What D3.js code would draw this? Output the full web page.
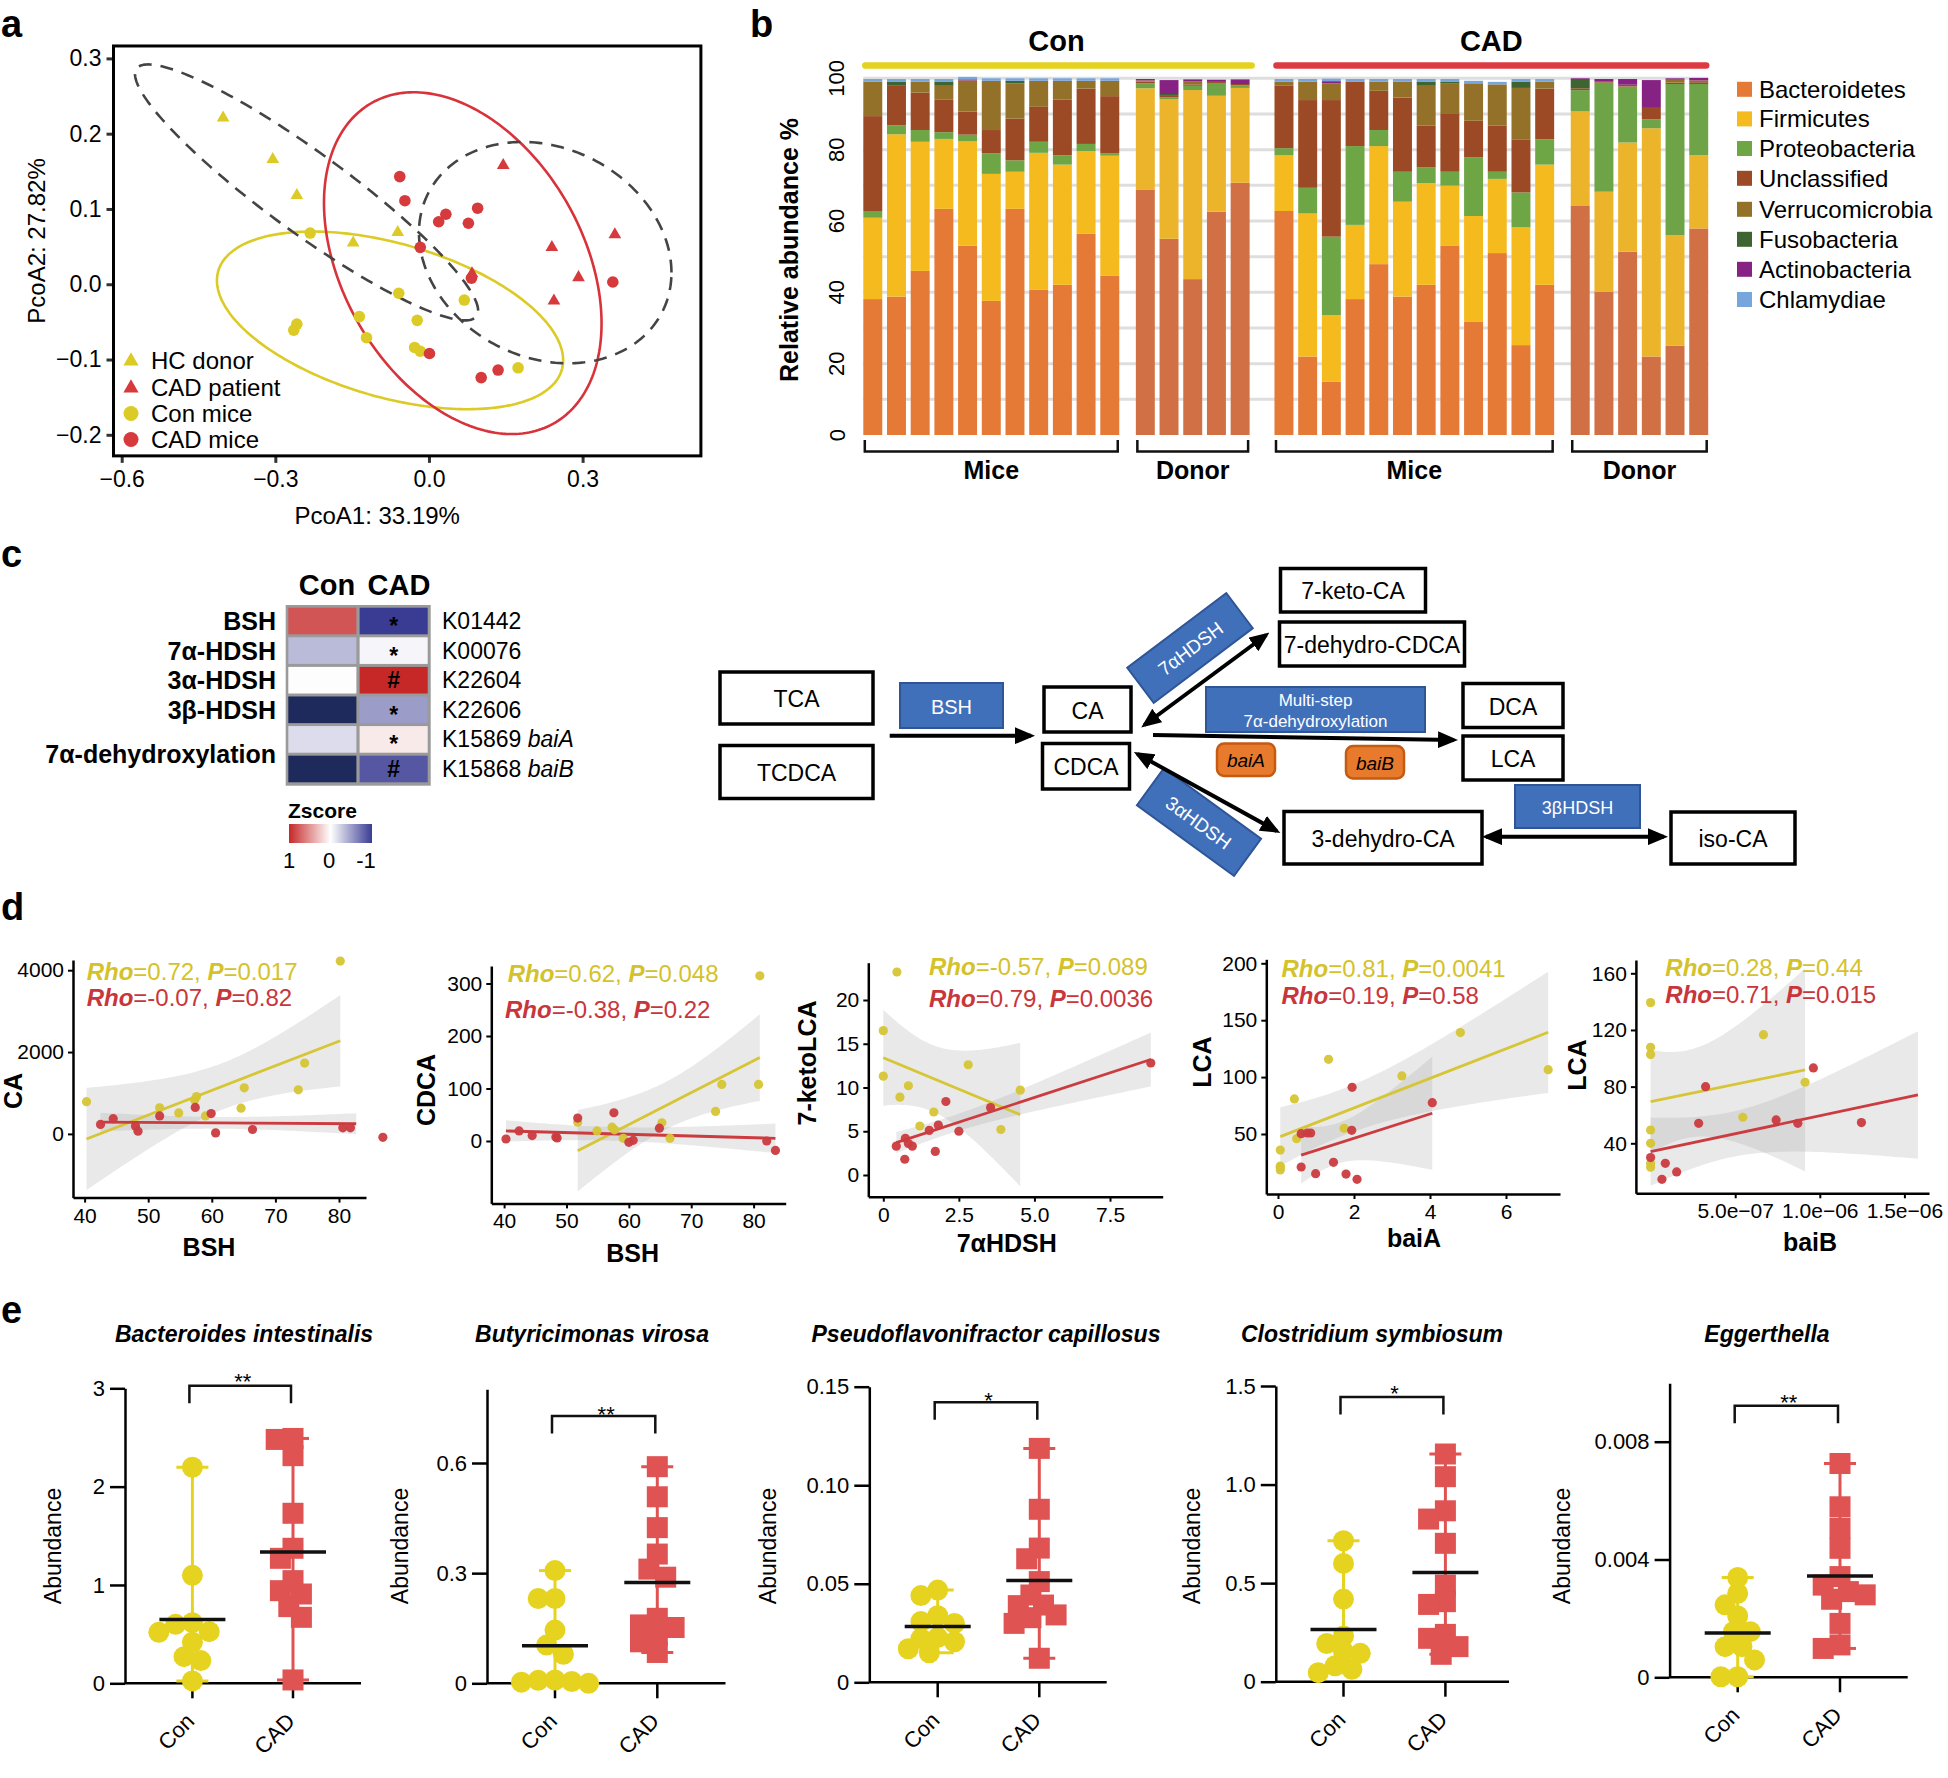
<!DOCTYPE html>
<html>
<head>
<meta charset="utf-8">
<script src="https://cdn.jsdelivr.net/npm/d3@7"></script>
<style>
html,body{margin:0;padding:0;background:#fff;}
svg{display:block;font-family:"Liberation Sans",Arial,Helvetica,sans-serif;}
</style>
</head>
<body>
<svg id="fig" width="1948" height="1778" xmlns="http://www.w3.org/2000/svg"></svg>
<script>
// ================= DATA =================
// ---- panel a : PCoA ----
const pcoaXTicks = [-0.6, -0.3, 0.0, 0.3];
const pcoaYTicks = [-0.2, -0.1, 0.0, 0.1, 0.2, 0.3];
const pcoaHCdonor = [[-0.402,0.221],[-0.305,0.166],[-0.258,0.118],[-0.148,0.055],[-0.061,0.069]];
const pcoaCADpatient = [[0.145,0.158],[0.363,0.066],[0.240,0.049],[0.292,0.009],[0.244,-0.022],[0.084,0.014]];
const pcoaConMice = [[-0.232,0.068],[-0.059,-0.012],[0.069,-0.021],[-0.258,-0.053],[-0.264,-0.061],[-0.136,-0.043],[-0.122,-0.071],[-0.023,-0.048],[-0.028,-0.084],[-0.017,-0.089],[0.174,-0.111]];
const pcoaCADMice = [[-0.057,0.143],[-0.047,0.111],[0.033,0.093],[0.019,0.083],[0.095,0.101],[0.077,0.081],[-0.017,0.049],[0.083,0.008],[0.359,0.003],[0.001,-0.092],[0.135,-0.114],[0.102,-0.124]];
const pcoaLegend = ["HC donor","CAD patient","Con mice","CAD mice"];
const ellipseGroups = ["Con mice","CAD mice","HC donor","CAD patient"];
const ellipseCx = [-0.076, 0.066, -0.239, 0.227];
const ellipseCy = [-0.048, 0.028, 0.122, 0.042];
const ellipseSx = [0.338, 0.271, 0.335, 0.2465];
const ellipseSy = [0.118, 0.227, 0.170, 0.147];
const ellipseCxy = [-0.0179, -0.0217, -0.0526, -0.00654];

// ---- panel b : stacked relative abundance ----
const phyla = ["Bacteroidetes","Firmicutes","Proteobacteria","Unclassified","Verrucomicrobia","Fusobacteria","Actinobacteria","Chlamydiae"];
const sampleGroup = [].concat(Array(11).fill("Con-Mice"), Array(5).fill("Con-Donor"), Array(12).fill("CAD-Mice"), Array(6).fill("CAD-Donor"));
const bacteroidetes = [38.1,38.8,46.0,63.4,53.1,37.6,63.4,40.7,42.1,56.4,44.6, 68.7,55.0,43.7,62.6,70.7, 62.8,22.0,15.0,38.1,47.9,38.8,42.1,53.0,31.7,51.0,25.2,42.1, 64.2,40.2,51.4,22.0,25.0,57.9];
const firmicutes = [22.8,45.5,36.2,19.6,29.2,35.6,10.4,38.4,33.7,23.2,33.7, 28.5,39.2,53.0,32.5,26.6, 15.6,40.1,18.6,20.8,33.1,26.6,28.5,16.9,29.7,20.8,33.0,33.7, 26.5,28.0,30.6,64.0,31.0,20.5];
const proteobacteria = [1.9,2.5,3.3,1.9,1.9,5.8,3.2,3.1,2.6,2.0,0.7, 1.4,0.5,1.2,3.6,0.7, 2.0,7.2,22.0,22.1,4.5,8.4,4.4,3.9,16.4,2.0,9.8,7.1, 6.0,30.6,15.7,2.5,42.4,20.0];
const unclassified = [26.6,11.1,10.5,9.2,6.5,6.5,11.7,9.8,15.6,15.5,16.0, 0.5,0.6,0.4,0.3,0.4, 17.5,24.6,38.3,18.1,11.0,20.8,11.7,16.2,10.3,12.9,14.9,14.2, 0.5,0.4,0.5,3.2,0.4,0.5];
const verrucomicrobia = [9.7,0,3.1,3.8,8.7,13.8,9.9,7.3,5.3,2.2,4.3, 0.3,0,0.9,0,0, 1.2,5.2,4.7,0,2.6,4.5,11.2,8.5,10.5,11.6,14.4,2.0, 0,0,0,0,0.8,0.5];
const fusobacteria = [0,1.2,0,1.2,0,0,0.7,0,0,0,0, 0,0.3,0,0,0, 0,0,0,0,0,0,1.2,0.6,0,0,1.8,0, 2.6,0,0,0,0,0];
const actinobacteria = [0,0,0,0,0.3,0,0,0,0,0,0, 0.4,3.9,0.5,0.6,1.3, 0,0,0.6,0,0,0,0,0,0,0,0,0, 0.2,0.6,1.6,7.8,0.4,0.7];
const chlamydiae = [0.7,0.7,0.7,0.7,0.7,0.7,0.7,0.7,0.7,0.7,0.7, 0,0,0,0,0, 0.7,0.7,0.7,0.7,0.7,0.7,0.7,0.7,0.7,0.7,0.7,0.7, 0,0,0,0,0,0];
const abundTicks = [0,20,40,60,80,100];

// ---- panel c : heatmap ----
const heatRowLabels = ["BSH","7α-HDSH","3α-HDSH","3β-HDSH"];
const heatKO = ["K01442","K00076","K22604","K22606","K15869","K15868"];
const heatGene = ["","","","","baiA","baiB"];
const heatCon = [0.79, -0.35, -0.01, -1.4, -0.18, -1.4];
const heatCAD = [-1.0, -0.05, 1.0, -0.51, 0.10, -0.86];
const heatMark = ["*","*","#","*","*","#"];

// ---- panel d : correlations ----
const d1ConBSH = [40.3,80.2,51.8,54.8,57.3,57.6,59.0,64.6,65.1,73.6,74.6];
const d1ConCA = [787,4224,638,513,828,911,439,629,1126,1077,1731];
const d1CadBSH = [42.5,44.5,48.0,48.4,51.8,57.4,59.9,60.6,66.4,80.6,81.8,86.9];
const d1CadCA = [232,373,190,66,439,646,497,25,108,149,149,-83];
const d2ConBSH = [81.0,51.8,54.9,57.3,57.7,59.1,65.3,66.6,73.9,74.9,80.8];
const d2ConCDCA = [314.7,35.9,19.2,26.3,21.2,5.1,34.6,5.1,56.4,107.7,107.7];
const d2CadBSH = [40.3,42.4,44.5,48.3,48.5,51.8,57.6,60.0,60.7,64.9,82.1,83.5];
const d2CadCDCA = [3.8,19.2,10.3,7.7,5.8,43.6,53.8,-2.6,1.3,24.4,0,-17.9];
const d3Con7a = [0.45,0,0,0.83,0.55,1.21,1.67,2.81,3.89,4.53];
const d3ConKeto = [23.2,16.5,11.3,10.2,8.9,5.6,7.2,12.6,5.2,9.7];
const d3Cad7a = [0.43,0.73,0.83,0.96,0.71,1.52,1.72,1.82,2.07,2.50,3.55,8.85];
const d3CadKeto = [3.3,4.2,3.6,3.3,1.8,5.1,2.7,5.7,8.4,5.0,7.7,12.8];
const d4ConBaiA = [0.06,0.06,0.06,0.06,0.43,0.49,1.33,1.74,3.26,4.80,7.11];
const d4ConLCA = [35.9,21.9,18.4,20.7,80.8,45.9,115.6,55.0,101.0,139.1,106.5];
const d4CadBaiA = [0.61,0.77,0.86,0.61,0.99,1.46,1.79,1.95,1.94,2.08,4.06];
const d4CadLCA = [50.3,50.9,50.9,21.0,15.1,25.1,14.8,91.0,53.2,10.2,77.5];
const d5ConBaiB = [0,0,0,0,0,0,0,5.45e-7,6.67e-7,9.13e-7];
const d5ConLCA = [139.3,107.8,102.6,49.4,40,25.9,23.1,58.4,116.7,83.1];
const d5CadBaiB = [0,6.7e-8,8.7e-8,1.54e-7,2.84e-7,3.25e-7,7.42e-7,8.7e-7,9.62e-7,1.246e-6];
const d5CadLCA = [29.9,14.6,25.9,19.8,54.1,80,56.5,54.1,93.2,54.6];
// fitted lines: [x start, y start, x end, y end]
const fitCon = [[40.3,-124,80.2,2277],[51.8,-18.6,81.0,159],[0,13.4,4.53,6.9],[0.06,47.7,7.11,139.4],[0,69.4,9.13e-7,91.8]];
const fitCad = [[42.5,290,82.7,248],[40.3,19.2,83.5,5.1],[0.43,3.7,8.85,13.2],[0.61,31.5,4.06,68.2],[0,34.1,1.58e-6,74.1]];
const rhoCon = [0.72, 0.62, -0.57, 0.81, 0.28];
const pCon = [0.017, 0.048, 0.089, 0.0041, 0.44];
const rhoCad = [-0.07, -0.38, 0.79, 0.19, 0.71];
const pCad = [0.82, 0.22, 0.0036, 0.58, 0.015];

// ---- panel e : species abundance ----
const speciesNames = ["Bacteroides intestinalis","Butyricimonas virosa","Pseudoflavonifractor capillosus","Clostridium symbiosum","Eggerthella"];
const speciesSig = ["**","**","*","*","**"];
const e1Con = [2.197,1.098,0.617,0.600,0.525,0.518,0.417,0.271,0.231,0.024];
const e1Cad = [2.49,2.48,2.315,1.729,1.373,1.271,1.044,0.942,0.908,0.78,0.671,0.034];
const e2Con = [0.307,0.231,0.231,0.145,0.104,0.079,0.009,0.005,0.003,0.008,0.0];
const e2Cad = [0.590,0.508,0.424,0.352,0.311,0.289,0.177,0.159,0.152,0.132,0.113,0.084];
const e3Con = [0.044,0.0468,0.0308,0.0299,0.0338,0.0222,0.0227,0.0206,0.015,0.017];
const e3Cad = [0.1187,0.0878,0.0681,0.0627,0.0511,0.0443,0.0389,0.0392,0.0328,0.0342,0.0299,0.0122];
const e4Con = [0.715,0.600,0.419,0.232,0.194,0.152,0.144,0.081,0.063,0.046];
const e4Cad = [1.155,1.04,0.867,0.825,0.702,0.490,0.406,0.392,0.22,0.24,0.178,0.139];
const e5Con = [0.00339,0.00285,0.00246,0.00208,0.00155,0.00155,0.00104,0.00104,0.00059,0.00002,0.00002];
const e5Cad = [0.00726,0.00579,0.00506,0.00438,0.00342,0.00313,0.00291,0.00265,0.00183,0.0011,0.00098,0.0028];
const eTicks = [[0,1,2,3],[0,0.3,0.6],[0,0.05,0.10,0.15],[0,0.5,1.0,1.5],[0,0.004,0.008]];

// ================= DRAWING =================
const FONT = "'Liberation Sans', Arial, Helvetica, sans-serif";
const svg = d3.select("#fig");
svg.append("rect").attr("width",1948).attr("height",1778).attr("fill","#fff");
const defs = svg.append("defs");

function styleAxis(g, fs) {
  g.attr("font-family", FONT).attr("font-size", fs);
  g.selectAll(".tick text").attr("fill", "#000");
  g.selectAll(".tick line").attr("stroke", "#000").attr("stroke-width", 2);
  g.select(".domain").attr("stroke", "#000").attr("stroke-width", 2.5);
}
function txt(g, x, y, s, o = {}) {
  const t = g.append("text").attr("x", x).attr("y", y).text(s)
    .attr("font-size", o.size || 20).attr("font-weight", o.weight || "normal")
    .attr("font-style", o.style || "normal").attr("text-anchor", o.anchor || "start")
    .attr("fill", o.fill || "#000");
  if (o.baseline) t.attr("dominant-baseline", o.baseline);
  if (o.rotate != null) t.attr("transform", `rotate(${o.rotate},${x},${y})`);
  return t;
}

// panel letters
txt(svg, 1, 37, "a", {size: 38, weight: "bold"});
txt(svg, 750, 37, "b", {size: 38, weight: "bold"});
txt(svg, 1, 567, "c", {size: 38, weight: "bold"});
txt(svg, 1, 920, "d", {size: 38, weight: "bold"});
txt(svg, 1, 1323, "e", {size: 38, weight: "bold"});

// ---------- Panel a ----------
(function () {
  const g = svg.append("g");
  const YEL = "#dccb26", RED = "#d63a3c";
  const x = d3.scaleLinear().domain([-0.6, 0.3]).range([121.7, 582.6]);
  const y = d3.scaleLinear().domain([-0.2, 0.3]).range([434.8, 58.4]);
  const X0 = x(-0.616), X1 = x(0.531), Y0 = y(0.3165), Y1 = y(-0.228);
  defs.append("clipPath").attr("id", "clipA").append("rect")
    .attr("x", X0).attr("y", Y0).attr("width", X1 - X0).attr("height", Y1 - Y0);
  const ax = g.append("g").attr("transform", `translate(0,${Y1})`)
    .call(d3.axisBottom(x).tickValues(pcoaXTicks).tickFormat(d3.format(".1f")).tickSize(7).tickPadding(8));
  styleAxis(ax, 23); ax.select(".domain").remove();
  ax.selectAll(".tick line").attr("stroke-width", 3).attr("stroke", "#333");
  const ay = g.append("g").attr("transform", `translate(${X0},0)`)
    .call(d3.axisLeft(y).tickValues(pcoaYTicks).tickFormat(d3.format(".1f")).tickSize(7).tickPadding(5));
  styleAxis(ay, 23); ay.select(".domain").remove();
  ay.selectAll(".tick line").attr("stroke-width", 3).attr("stroke", "#333");

  const plot = g.append("g").attr("clip-path", "url(#clipA)");
  const estyle = {"Con mice": [YEL, null], "CAD mice": ["#d8333a", null], "HC donor": ["#444", "13,9"], "CAD patient": ["#444", "13,9"]};
  ellipseGroups.forEach((name, i) => {
    const ux = ellipseSx[i], uy = ellipseCxy[i] / ellipseSx[i];
    const vy = Math.sqrt(ellipseSy[i] ** 2 - uy * uy);
    const pts = d3.range(0, 241).map(k => {
      const t = k / 240 * 2 * Math.PI;
      return [ellipseCx[i] + ux * Math.cos(t), ellipseCy[i] + uy * Math.cos(t) + vy * Math.sin(t)];
    });
    const p = plot.append("path").attr("d", d3.line().x(d => x(d[0])).y(d => y(d[1]))(pts))
      .attr("fill", "none").attr("stroke", estyle[name][0]).attr("stroke-width", 2.6);
    if (estyle[name][1]) p.attr("stroke-dasharray", estyle[name][1]);
  });
  const tri = d3.symbol(d3.symbolTriangle, 70), triL = d3.symbol(d3.symbolTriangle, 100);
  plot.selectAll(null).data(pcoaConMice).enter().append("circle")
    .attr("cx", d => x(d[0])).attr("cy", d => y(d[1])).attr("r", 5.8).attr("fill", YEL);
  plot.selectAll(null).data(pcoaCADMice).enter().append("circle")
    .attr("cx", d => x(d[0])).attr("cy", d => y(d[1])).attr("r", 5.8).attr("fill", RED);
  plot.selectAll(null).data(pcoaHCdonor).enter().append("path").attr("d", tri)
    .attr("transform", d => `translate(${x(d[0])},${y(d[1])})`).attr("fill", YEL);
  plot.selectAll(null).data(pcoaCADpatient).enter().append("path").attr("d", tri)
    .attr("transform", d => `translate(${x(d[0])},${y(d[1])})`).attr("fill", RED);

  const ly = [360, 387, 413.5, 439.5];
  const lcol = [YEL, RED, YEL, RED];
  pcoaLegend.forEach((lab, i) => {
    if (i < 2) g.append("path").attr("d", triL).attr("transform", `translate(131,${ly[i] + 1})`).attr("fill", lcol[i]);
    else g.append("circle").attr("cx", 131).attr("cy", ly[i]).attr("r", 7.5).attr("fill", lcol[i]);
    txt(g, 151, ly[i], lab, {size: 24, baseline: "central"});
  });
  g.append("rect").attr("x", X0).attr("y", Y0).attr("width", X1 - X0).attr("height", Y1 - Y0)
    .attr("fill", "none").attr("stroke", "#000").attr("stroke-width", 3);
  txt(g, (X0 + X1) / 2 - 30, 524, "PcoA1: 33.19%", {size: 24, anchor: "middle"});
  txt(g, 36, 241, "PcoA2: 27.82%", {size: 24, anchor: "middle", baseline: "central", rotate: -90});
})();

// ---------- Panel b ----------
(function () {
  const g = svg.append("g");
  const micePal = {Bacteroidetes: "#e47a36", Firmicutes: "#f5ba1e", Proteobacteria: "#6ea646", Unclassified: "#9b4a25",
    Verrucomicrobia: "#937128", Fusobacteria: "#3e6431", Actinobacteria: "#862283", Chlamydiae: "#76a6dc"};
  const donorPal = Object.assign({}, micePal, {Bacteroidetes: "#d27045", Firmicutes: "#ebb42b", Proteobacteria: "#6ea447"});
  const phylaValues = [bacteroidetes, firmicutes, proteobacteria, unclassified, verrucomicrobia, fusobacteria, actinobacteria, chlamydiae];
  const y = d3.scaleLinear().domain([0, 100]).range([435, 78.3]);
  const gapAfter = {"Con-Mice": 0.5, "Con-Donor": 0.85, "CAD-Mice": 0.5};
  let pos = 0; const slotPos = [];
  sampleGroup.forEach((grp, i) => {
    if (i > 0 && grp !== sampleGroup[i - 1]) pos += gapAfter[sampleGroup[i - 1]];
    slotPos.push(pos); pos += 1;
  });
  const x = d3.scaleLinear().domain([0, pos - 0.2]).range([863.3, 1708.2]);
  const bw = x(0.8) - x(0);
  d3.range(10, 101, 10).forEach(v => {
    g.append("line").attr("x1", x(0)).attr("x2", x(pos - 0.2)).attr("y1", y(v)).attr("y2", y(v))
      .attr("stroke", "#dedede").attr("stroke-width", 3);
  });
  const table = sampleGroup.map((grp, i) => {
    const o = {grp: grp}; phyla.forEach((p, k) => o[p] = phylaValues[k][i]); return o;
  });
  const series = d3.stack().keys(phyla)(table);
  series.forEach(s => {
    g.selectAll(null).data(s).enter().append("rect")
      .attr("x", (d, i) => x(slotPos[i])).attr("width", bw)
      .attr("y", d => y(d[1])).attr("height", d => Math.max(0, y(d[0]) - y(d[1])))
      .attr("fill", (d, i) => (table[i].grp.endsWith("Donor") ? donorPal : micePal)[s.key]);
  });
  abundTicks.forEach(v => txt(g, 837, y(v), String(v), {size: 22, anchor: "middle", baseline: "central", rotate: -90}));
  txt(g, 789, 250, "Relative abundance %", {size: 25, weight: "bold", anchor: "middle", baseline: "central", rotate: -90});
  const ext = grp => {
    const idx = sampleGroup.map((d, i) => d === grp ? i : -1).filter(i => i >= 0);
    return [x(slotPos[idx[0]]), x(slotPos[idx[idx.length - 1]]) + bw];
  };
  const conL = [ext("Con-Mice")[0], ext("Con-Donor")[1]];
  const cadL = [ext("CAD-Mice")[0], ext("CAD-Donor")[1]];
  g.append("line").attr("x1", conL[0] + 2).attr("x2", conL[1] + 2).attr("y1", 65.5).attr("y2", 65.5)
    .attr("stroke", "#e5d21e").attr("stroke-width", 6.5).attr("stroke-linecap", "round");
  g.append("line").attr("x1", cadL[0] + 2).attr("x2", cadL[1] - 2).attr("y1", 65.5).attr("y2", 65.5)
    .attr("stroke", "#dd3b42").attr("stroke-width", 6.5).attr("stroke-linecap", "round");
  txt(g, (conL[0] + conL[1]) / 2, 51, "Con", {size: 29, weight: "bold", anchor: "middle"});
  txt(g, (cadL[0] + cadL[1]) / 2, 51, "CAD", {size: 29, weight: "bold", anchor: "middle"});
  [["Con-Mice", "Mice"], ["Con-Donor", "Donor"], ["CAD-Mice", "Mice"], ["CAD-Donor", "Donor"]].forEach(([grp, lab]) => {
    const [a, b] = ext(grp);
    g.append("path").attr("d", `M${a + 1.5},440 V451.5 H${b - 1.5} V440`).attr("fill", "none")
      .attr("stroke", "#111").attr("stroke-width", 2.5);
    txt(g, (a + b) / 2, 479, lab, {size: 25, weight: "bold", anchor: "middle"});
  });
  const ly = [89.3, 118.9, 148.5, 178.3, 209.3, 239.3, 269.3, 299.5];
  phyla.forEach((p, i) => {
    g.append("rect").attr("x", 1737).attr("y", ly[i] - 7.5).attr("width", 15).attr("height", 15).attr("fill", micePal[p]);
    txt(g, 1759, ly[i], p, {size: 24, baseline: "central"});
  });
})();

// ---------- Panel c : heatmap ----------
(function () {
  const g = svg.append("g");
  const zColor = d3.scaleLinear().domain([1, 0, -1, -1.4]).range(["#c62828", "#ffffff", "#3a3c93", "#1f2a5c"]).clamp(true);
  g.append("rect").attr("x", 285.7).attr("y", 605).attr("width", 145).attr("height", 180.7).attr("fill", "#9a9a9a");
  const rows = d3.scaleBand().domain(d3.range(6)).range([607.7, 782.3]).paddingInner(0.1);
  const cols = d3.scaleBand().domain(["Con", "CAD"]).range([288.3, 427.7]).paddingInner(0.045);
  [["Con", heatCon], ["CAD", heatCAD]].forEach(([c, vals]) => {
    g.selectAll(null).data(vals).enter().append("rect")
      .attr("x", cols(c)).attr("width", cols.bandwidth())
      .attr("y", (d, i) => rows(i)).attr("height", rows.bandwidth()).attr("fill", d => zColor(d));
  });
  heatMark.forEach((m, i) => {
    const cy = rows(i) + rows.bandwidth() / 2;
    txt(g, cols("CAD") + cols.bandwidth() / 2, cy + (m === "*" ? 13 : 8), m, {size: 23, weight: "bold", anchor: "middle"});
  });
  heatRowLabels.forEach((l, i) => txt(g, 276, rows(i) + rows.bandwidth() / 2, l, {size: 25, weight: "bold", anchor: "end", baseline: "central"}));
  txt(g, 276, (rows(4) + rows(5) + rows.bandwidth()) / 2, "7α-dehydroxylation", {size: 25, weight: "bold", anchor: "end", baseline: "central"});
  heatKO.forEach((k, i) => {
    const t = txt(g, 442, rows(i) + rows.bandwidth() / 2, k, {size: 23, baseline: "central"});
    if (heatGene[i]) t.append("tspan").attr("font-style", "italic").text(" " + heatGene[i]);
  });
  txt(g, 327, 595, "Con", {size: 29, weight: "bold", anchor: "middle"});
  txt(g, 399, 595, "CAD", {size: 29, weight: "bold", anchor: "middle"});
  const grad = defs.append("linearGradient").attr("id", "zgrad").attr("x1", "0").attr("x2", "1").attr("y1", "0").attr("y2", "0");
  d3.range(0, 11).forEach(k => grad.append("stop").attr("offset", k / 10).attr("stop-color", zColor(1 - 2 * k / 10)));
  txt(g, 288, 818, "Zscore", {size: 21, weight: "bold"});
  g.append("rect").attr("x", 289).attr("y", 824).attr("width", 83).attr("height", 19).attr("fill", "url(#zgrad)");
  txt(g, 289, 868, "1", {size: 22, anchor: "middle"});
  txt(g, 329, 868, "0", {size: 22, anchor: "middle"});
  txt(g, 366, 868, "-1", {size: 22, anchor: "middle"});
})();

// ---------- Panel c : pathway diagram ----------
(function () {
  const g = svg.append("g");
  defs.append("marker").attr("id", "ah").attr("viewBox", "0 0 10 10").attr("refX", 8).attr("refY", 5)
    .attr("markerWidth", 5).attr("markerHeight", 4.2).attr("markerUnits", "strokeWidth")
    .attr("preserveAspectRatio", "none").attr("orient", "auto-start-reverse")
    .append("path").attr("d", "M0,0 L10,5 L0,10 z").attr("fill", "#000");
  const boxes = [
    {t: "TCA", x: 720, y: 672, w: 153, h: 52}, {t: "TCDCA", x: 720, y: 745.5, w: 153, h: 53},
    {t: "CA", x: 1044, y: 687, w: 87, h: 45}, {t: "CDCA", x: 1042.5, y: 743.5, w: 87, h: 45.5},
    {t: "7-keto-CA", x: 1280.5, y: 568.5, w: 145, h: 43.5}, {t: "7-dehydro-CDCA", x: 1279.5, y: 622, w: 185, h: 44},
    {t: "DCA", x: 1463, y: 683.5, w: 100, h: 44}, {t: "LCA", x: 1463, y: 736, w: 100, h: 44},
    {t: "3-dehydro-CA", x: 1284, y: 811.5, w: 198, h: 52.5}, {t: "iso-CA", x: 1671, y: 812, w: 124, h: 52}
  ];
  boxes.forEach(b => {
    g.append("rect").attr("x", b.x).attr("y", b.y).attr("width", b.w).attr("height", b.h)
      .attr("fill", "#fff").attr("stroke", "#000").attr("stroke-width", 3.5);
    txt(g, b.x + b.w / 2, b.y + b.h / 2 + 1, b.t, {size: 23, anchor: "middle", baseline: "central"});
  });
  const BLUE = "#4170bb", BSTROKE = "#2f5597";
  const blue = [
    {t: ["BSH"], cx: 951.5, cy: 705.5, w: 103, h: 45, a: 0, fs: 20},
    {t: ["Multi-step", "7α-dehydroxylation"], cx: 1315.5, cy: 709.5, w: 219, h: 45, a: 0, fs: 17},
    {t: ["3βHDSH"], cx: 1577.5, cy: 806.5, w: 125, h: 43, a: 0, fs: 18},
    {t: ["7αHDSH"], cx: 1190, cy: 648, w: 124, h: 44, a: -37, fs: 19},
    {t: ["3αHDSH"], cx: 1199, cy: 822, w: 120, h: 46, a: 36, fs: 19}
  ];
  blue.forEach(b => {
    const gg = g.append("g").attr("transform", `translate(${b.cx},${b.cy}) rotate(${b.a})`);
    gg.append("rect").attr("x", -b.w / 2).attr("y", -b.h / 2).attr("width", b.w).attr("height", b.h)
      .attr("fill", BLUE).attr("stroke", BSTROKE).attr("stroke-width", 2);
    b.t.forEach((line, k) => {
      const dy = (k - (b.t.length - 1) / 2) * 21;
      txt(gg, 0, dy + 1, line, {size: b.fs, anchor: "middle", baseline: "central", fill: "#fff"});
    });
  });
  [{t: "baiA", x: 1217, y: 743.5, w: 58, h: 32.5}, {t: "baiB", x: 1346, y: 746, w: 58, h: 32.5}].forEach(b => {
    g.append("rect").attr("x", b.x).attr("y", b.y).attr("width", b.w).attr("height", b.h).attr("rx", 7)
      .attr("fill", "#e87a2d").attr("stroke", "#c55a11").attr("stroke-width", 2.5);
    txt(g, b.x + b.w / 2, b.y + b.h / 2 + 1, b.t, {size: 19, style: "italic", anchor: "middle", baseline: "central"});
  });
  const arrows = [
    [889.7, 735.7, 1031, 735.7, false], [1144.4, 725, 1266.2, 635, true], [1153, 735, 1454, 740, false],
    [1137.4, 754, 1276.8, 831, true], [1486, 836.7, 1664, 836.7, true]
  ];
  arrows.forEach(a => {
    const l = g.append("line").attr("x1", a[0]).attr("y1", a[1]).attr("x2", a[2]).attr("y2", a[3])
      .attr("stroke", "#000").attr("stroke-width", 4).attr("marker-end", "url(#ah)");
    if (a[4]) l.attr("marker-start", "url(#ah)");
  });
})();

// ---------- Panel d ----------
const tCrit = {8: 2.306, 9: 2.262, 10: 2.228, 11: 2.201};
function rhoText(g, x, y, rho, p, color) {
  const t = g.append("text").attr("x", x).attr("y", y).attr("font-size", 24).attr("fill", color).attr("dominant-baseline", "central");
  t.append("tspan").attr("font-weight", "bold").attr("font-style", "italic").text("Rho");
  t.append("tspan").text("=" + rho + ", ");
  t.append("tspan").attr("font-weight", "bold").attr("font-style", "italic").text("P");
  t.append("tspan").text("=" + p);
}
function scatterPanel(c) {
  const g = svg.append("g");
  const x = d3.scaleLinear().domain([c.xCal[0], c.xCal[2]]).range([c.xCal[1], c.xCal[3]]);
  x.domain([x.invert(c.left), x.invert(c.right)]).range([c.left, c.right]);
  const y = d3.scaleLinear().domain([c.yCal[0], c.yCal[2]]).range([c.yCal[1], c.yCal[3]]);
  y.domain([y.invert(c.bottom), y.invert(c.top)]).range([c.bottom, c.top]);
  const cid = "clip" + c.id;
  defs.append("clipPath").attr("id", cid).append("rect").attr("x", c.left).attr("y", c.top)
    .attr("width", c.right - c.left).attr("height", c.bottom - c.top);
  const plot = g.append("g").attr("clip-path", `url(#${cid})`);
  const fits = [];
  c.groups.forEach(gr => {
    const [fx0, fy0, fx1, fy1] = gr.fit;
    const slope = (fy1 - fy0) / (fx1 - fx0);
    const f = v => fy0 + slope * (v - fx0);
    const n = gr.xs.length, xbar = d3.mean(gr.xs);
    const sxx = d3.sum(gr.xs, v => (v - xbar) ** 2);
    const sse = d3.sum(gr.xs, (v, i) => (gr.ys[i] - f(v)) ** 2);
    const s = Math.sqrt(sse / (n - 2)), tq = tCrit[n - 2];
    const band = d3.range(0, 61).map(k => {
      const v = fx0 + (fx1 - fx0) * k / 60;
      const hw = tq * s * Math.sqrt(1 / n + (v - xbar) ** 2 / sxx);
      return [v, f(v) - hw, f(v) + hw];
    });
    plot.append("path").datum(band).attr("d", d3.area().x(d => x(d[0])).y0(d => y(d[1])).y1(d => y(d[2])))
      .attr("fill", "#9a9a9a").attr("fill-opacity", 0.22);
    fits.push([f, fx0, fx1, gr.color]);
  });
  c.groups.forEach(gr => {
    g.selectAll(null).data(gr.xs).enter().append("circle")
      .attr("cx", d => x(d)).attr("cy", (d, i) => y(gr.ys[i])).attr("r", 4.6).attr("fill", gr.color).attr("fill-opacity", 0.95);
  });
  fits.forEach(([f, a, b, col]) => {
    plot.append("line").attr("x1", x(a)).attr("y1", y(f(a))).attr("x2", x(b)).attr("y2", y(f(b)))
      .attr("stroke", col).attr("stroke-width", 2.8);
  });
  const ya = g.append("g").attr("transform", `translate(${c.left},0)`)
    .call(d3.axisLeft(y).tickValues(c.yTicks).tickFormat(c.yFmt).tickSize(5).tickSizeOuter(0).tickPadding(4));
  styleAxis(ya, 21);
  const xa = g.append("g").attr("transform", `translate(0,${c.bottom})`)
    .call(d3.axisBottom(x).tickValues(c.xTicks).tickFormat(c.xFmt).tickSize(5).tickSizeOuter(0).tickPadding(5));
  styleAxis(xa, 21);
  txt(g, c.xLab[1], c.xLab[2], c.xLab[0], {size: 25, weight: "bold", anchor: "middle", baseline: "central"});
  txt(g, c.yLab[1], c.yLab[2], c.yLab[0], {size: 25, weight: "bold", anchor: "middle", baseline: "central", rotate: -90});
  rhoText(g, c.rho[0], c.rho[1], rhoCon[c.k], pCon[c.k], "#d4c22c");
  rhoText(g, c.rho[0] - (c.rhoDx || 0), c.rho[2], rhoCad[c.k], pCad[c.k], "#c8363c");
}
const YD = "#d6c535", RD = "#cb3b3f";
const fmtInt = d3.format("d");
const fmtExp = v => { const [m, e] = v.toExponential(1).split("e"); const ei = parseInt(e); return m + "e" + (ei < 0 ? "−" : "+") + String(Math.abs(ei)).padStart(2, "0"); };
scatterPanel({id: "d1", k: 0, left: 73, right: 366, top: 960, bottom: 1197.6, xCal: [40, 84.6, 80, 339], yCal: [0, 1133.9, 4000, 970.2],
  xTicks: [40, 50, 60, 70, 80], yTicks: [0, 2000, 4000], xFmt: fmtInt, yFmt: fmtInt,
  groups: [{xs: d1ConBSH, ys: d1ConCA, fit: fitCon[0], color: YD}, {xs: d1CadBSH, ys: d1CadCA, fit: fitCad[0], color: RD}],
  xLab: ["BSH", 209, 1247], yLab: ["CA", 13, 1091], rho: [86.7, 971, 996.6]});
scatterPanel({id: "d2", k: 1, left: 491.3, right: 785.7, top: 966, bottom: 1203.4, xCal: [40, 504.1, 80, 753.6], yCal: [0, 1141, 300, 983.5],
  xTicks: [40, 50, 60, 70, 80], yTicks: [0, 100, 200, 300], xFmt: fmtInt, yFmt: fmtInt,
  groups: [{xs: d2ConBSH, ys: d2ConCDCA, fit: fitCon[1], color: YD}, {xs: d2CadBSH, ys: d2CadCDCA, fit: fitCad[1], color: RD}],
  xLab: ["BSH", 632.7, 1253], yLab: ["CDCA", 426, 1090], rho: [507.7, 973, 1009], rhoDx: 2.7});
scatterPanel({id: "d3", k: 2, left: 868.3, right: 1162.7, top: 962.7, bottom: 1196.7, xCal: [0, 883.3, 7.5, 1110], yCal: [0, 1175, 20, 1000],
  xTicks: [0, 2.5, 5, 7.5], yTicks: [0, 5, 10, 15, 20], xFmt: v => v === 0 ? "0" : d3.format(".1f")(v), yFmt: fmtInt,
  groups: [{xs: d3Con7a, ys: d3ConKeto, fit: fitCon[2], color: YD}, {xs: d3Cad7a, ys: d3CadKeto, fit: fitCad[2], color: RD}],
  xLab: ["7αHDSH", 1006.7, 1243], yLab: ["7-ketoLCA", 807, 1063], rho: [929, 966, 998.3]});
scatterPanel({id: "d4", k: 3, left: 1266.3, right: 1560, top: 959.3, bottom: 1194, xCal: [0, 1278, 6, 1506], yCal: [50, 1134, 200, 963.3],
  xTicks: [0, 2, 4, 6], yTicks: [50, 100, 150, 200], xFmt: fmtInt, yFmt: fmtInt,
  groups: [{xs: d4ConBaiA, ys: d4ConLCA, fit: fitCon[3], color: YD}, {xs: d4CadBaiA, ys: d4CadLCA, fit: fitCad[3], color: RD}],
  xLab: ["baiA", 1414, 1238], yLab: ["LCA", 1202, 1062], rho: [1281.5, 967.7, 995]});
scatterPanel({id: "d5", k: 4, left: 1635.9, right: 1929, top: 960, bottom: 1193.3, xCal: [0, 1650.6, 1.5e-6, 1904.4], yCal: [40, 1143.3, 160, 973.3],
  xTicks: [5e-7, 1e-6, 1.5e-6], yTicks: [40, 80, 120, 160], xFmt: fmtExp, yFmt: fmtInt,
  groups: [{xs: d5ConBaiB, ys: d5ConLCA, fit: fitCon[4], color: YD}, {xs: d5CadBaiB, ys: d5CadLCA, fit: fitCad[4], color: RD}],
  xLab: ["baiB", 1810, 1242], yLab: ["LCA", 1577, 1065], rho: [1665.3, 966.7, 994.3]});

// ---------- Panel e ----------
const YE = "#e6d31f", RE = "#e05353";
function swarm(vals, y, cx, r) {
  const placed = [], out = new Array(vals.length);
  const order = vals.map((v, i) => i).sort((a, b) => vals[b] - vals[a]);
  order.forEach(i => {
    const py = y(vals[i]);
    for (let k = 0; k < 80; k++) {
      const off = (k === 0 ? 0 : (k % 2 ? -1 : 1) * Math.ceil(k / 2)) * r * 0.4;
      const px = cx + off;
      if (placed.every(p => Math.hypot(p[0] - px, p[1] - py) >= 2 * r * 0.75)) { placed.push([px, py]); out[i] = [px, py]; break; }
    }
  });
  return out;
}
function dotPanel(c) {
  const g = svg.append("g");
  const y = d3.scaleLinear().domain([0, c.yCal[0]]).range([c.zeroY, c.yCal[1]]);
  y.domain([0, y.invert(c.top)]).range([c.zeroY, c.top]);
  const xc = d3.scalePoint().domain(["Con", "CAD"]).range(c.cat);
  const ya = g.append("g").attr("transform", `translate(${c.axisX},0)`)
    .call(d3.axisLeft(y).tickValues(eTicks[c.k]).tickFormat(c.fmt).tickSize(15).tickSizeOuter(0).tickPadding(5));
  styleAxis(ya, 22); ya.selectAll(".tick line").attr("stroke-width", 2.5);
  g.append("line").attr("x1", c.axisX).attr("x2", c.xEnd).attr("y1", c.zeroY).attr("y2", c.zeroY).attr("stroke", "#000").attr("stroke-width", 2.5);
  ["Con", "CAD"].forEach(k => {
    g.append("line").attr("x1", xc(k)).attr("x2", xc(k)).attr("y1", c.zeroY).attr("y2", c.zeroY + 15).attr("stroke", "#000").attr("stroke-width", 2.5);
    txt(g, xc(k) - 8, c.zeroY + 28, k, {size: 22, anchor: "end", rotate: -45, baseline: "hanging"});
  });
  const groups = [["Con", c.con, YE], ["CAD", c.cad, RE]];
  groups.forEach(([k, vals, col]) => {
    const lo = d3.min(vals), hi = d3.max(vals), cx = xc(k);
    g.append("line").attr("x1", cx).attr("x2", cx).attr("y1", y(lo)).attr("y2", y(hi)).attr("stroke", col).attr("stroke-width", 3);
    [lo, hi].forEach(v => g.append("line").attr("x1", cx - 16).attr("x2", cx + 16).attr("y1", y(v)).attr("y2", y(v)).attr("stroke", col).attr("stroke-width", 3));
  });
  groups.forEach(([k, vals, col]) => {
    const pos = swarm(vals, y, xc(k), 10.5);
    if (k === "Con") g.selectAll(null).data(pos).enter().append("circle").attr("cx", d => d[0]).attr("cy", d => d[1]).attr("r", 10.5).attr("fill", col);
    else g.selectAll(null).data(pos).enter().append("rect").attr("x", d => d[0] - 10.5).attr("y", d => d[1] - 10.5).attr("width", 21).attr("height", 21).attr("fill", col);
  });
  groups.forEach(([k, vals]) => {
    const m = d3.mean(vals);
    g.append("line").attr("x1", xc(k) - 33).attr("x2", xc(k) + 33).attr("y1", y(m)).attr("y2", y(m)).attr("stroke", "#111").attr("stroke-width", 3.5);
  });
  g.append("path").attr("d", `M${xc("Con") - 3},${c.brY + 17.5} V${c.brY} H${xc("CAD") - 2} V${c.brY + 17.5}`)
    .attr("fill", "none").attr("stroke", "#111").attr("stroke-width", 2.5);
  txt(g, (xc("Con") + xc("CAD")) / 2, c.sigY, speciesSig[c.k], {size: 22, anchor: "middle"});
  txt(g, c.titleX, 1342, speciesNames[c.k], {size: 23, weight: "bold", style: "italic", anchor: "middle"});
  txt(g, c.ylabX, 1546, "Abundance", {size: 23, anchor: "middle", baseline: "central", rotate: -90});
}
dotPanel({k: 0, axisX: 125, zeroY: 1683.3, yCal: [3, 1388.3], top: 1388.3, xEnd: 361, cat: [192.4, 293], fmt: fmtInt,
  con: e1Con, cad: e1Cad, brY: 1385.7, sigY: 1388.6, titleX: 244, ylabX: 52.5});
dotPanel({k: 1, axisX: 487, zeroY: 1683.3, yCal: [0.6, 1463], top: 1389.3, xEnd: 725.5, cat: [555, 657.3], fmt: v => v === 0 ? "0" : d3.format(".1f")(v),
  con: e2Con, cad: e2Cad, brY: 1416, sigY: 1422, titleX: 592, ylabX: 400});
dotPanel({k: 2, axisX: 869.3, zeroY: 1682.3, yCal: [0.15, 1386.7], top: 1386.7, xEnd: 1106.7, cat: [937.7, 1039.3], fmt: v => v === 0 ? "0" : d3.format(".2f")(v),
  con: e3Con, cad: e3Cad, brY: 1402.3, sigY: 1408.3, titleX: 986, ylabX: 768.3});
dotPanel({k: 3, axisX: 1275.8, zeroY: 1681.7, yCal: [1.5, 1386], top: 1386, xEnd: 1509, cat: [1343.5, 1445.4], fmt: v => v === 0 ? "0" : d3.format(".1f")(v),
  con: e4Con, cad: e4Cad, brY: 1397, sigY: 1401, titleX: 1372, ylabX: 1192});
dotPanel({k: 4, axisX: 1669.6, zeroY: 1677.3, yCal: [0.008, 1441.7], top: 1383.3, xEnd: 1907.7, cat: [1737.7, 1840], fmt: v => v === 0 ? "0" : d3.format(".3f")(v),
  con: e5Con, cad: e5Cad, brY: 1405.7, sigY: 1410, titleX: 1767, ylabX: 1562.3});
</script>
</body>
</html>
